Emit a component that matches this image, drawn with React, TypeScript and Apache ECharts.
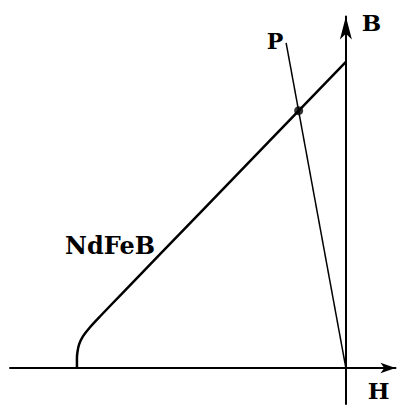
import React, { useEffect, useRef } from "react";
import * as echarts from "echarts";

// Demagnetization curve of NdFeB (second quadrant), H in kA/m, B in T
const curveH = [-900, -900, -898, -893, -880, -857, -823, -746, -488, 0];
const curveB = [0, 0.039, 0.065, 0.092, 0.124, 0.159, 0.202, 0.296, 0.608, 1.2];

// Load line through the origin, ending at P
const loadH = [0, -200];
const loadB = [0, 1.275];

// Operating point where the load line crosses the curve
const workPoint = [-158, 1.009];

// Axis extents
const hRange = [-1124, 166];
const bRange = [-0.141, 1.378];

const axisNames = { h: "H", b: "B" };
const curveName = "NdFeB";
const loadName = "P";

const FONT = '"DejaVu Serif", "Liberation Serif", serif';

export default function App() {
  const ref = useRef<HTMLDivElement>(null);

  useEffect(() => {
    if (!ref.current) return;
    const chart = echarts.init(ref.current, null, { renderer: "svg" });

    const curve = curveH.map((h, i) => [h, curveB[i]]);
    const load = loadH.map((h, i) => [h, loadB[i]]);

    const label = (text: string, x: number, y: number, size: number) => ({
      type: "text",
      x,
      y,
      silent: true,
      style: {
        text,
        fill: "#000",
        fontFamily: FONT,
        fontWeight: "bold",
        fontSize: size,
        align: "center",
        verticalAlign: "middle",
      },
    });

    chart.setOption({
      animation: false,
      backgroundColor: "#fff",
      grid: { left: 10, right: 11.5, top: 16.5, bottom: 1 },
      xAxis: {
        type: "value",
        min: hRange[0],
        max: hRange[1],
        axisLine: {
          onZero: true,
          symbol: ["none", "arrow"],
          symbolSize: [8, 15],
          lineStyle: { color: "#000", width: 2 },
        },
        axisTick: { show: false },
        axisLabel: { show: false },
        splitLine: { show: false },
      },
      yAxis: {
        type: "value",
        min: bRange[0],
        max: bRange[1],
        axisLine: {
          onZero: true,
          symbol: ["none", "arrow"],
          symbolSize: [9, 23],
          lineStyle: { color: "#000", width: 2 },
        },
        axisTick: { show: false },
        axisLabel: { show: false },
        splitLine: { show: false },
      },
      series: [
        {
          type: "line",
          name: curveName,
          data: curve,
          smooth: 0.25,
          showSymbol: false,
          lineStyle: { color: "#000", width: 2.5 },
          z: 3,
        },
        {
          type: "line",
          name: loadName,
          data: load,
          showSymbol: false,
          lineStyle: { color: "#000", width: 1.5 },
          z: 2,
        },
        {
          type: "scatter",
          data: [workPoint],
          symbol: "circle",
          symbolSize: 9,
          itemStyle: { color: "#000" },
          z: 4,
        },
      ],
      graphic: [
        label(loadName, 275, 41, 22),
        label(curveName, 110, 245, 24),
        label(axisNames.b, 371.5, 22, 23),
        label(axisNames.h, 378.5, 390, 23),
      ],
    });

    return () => chart.dispose();
  }, []);

  return (
    <div
      ref={ref}
      style={{ position: "fixed", left: 0, top: 0, width: 407, height: 405 }}
    />
  );
}
